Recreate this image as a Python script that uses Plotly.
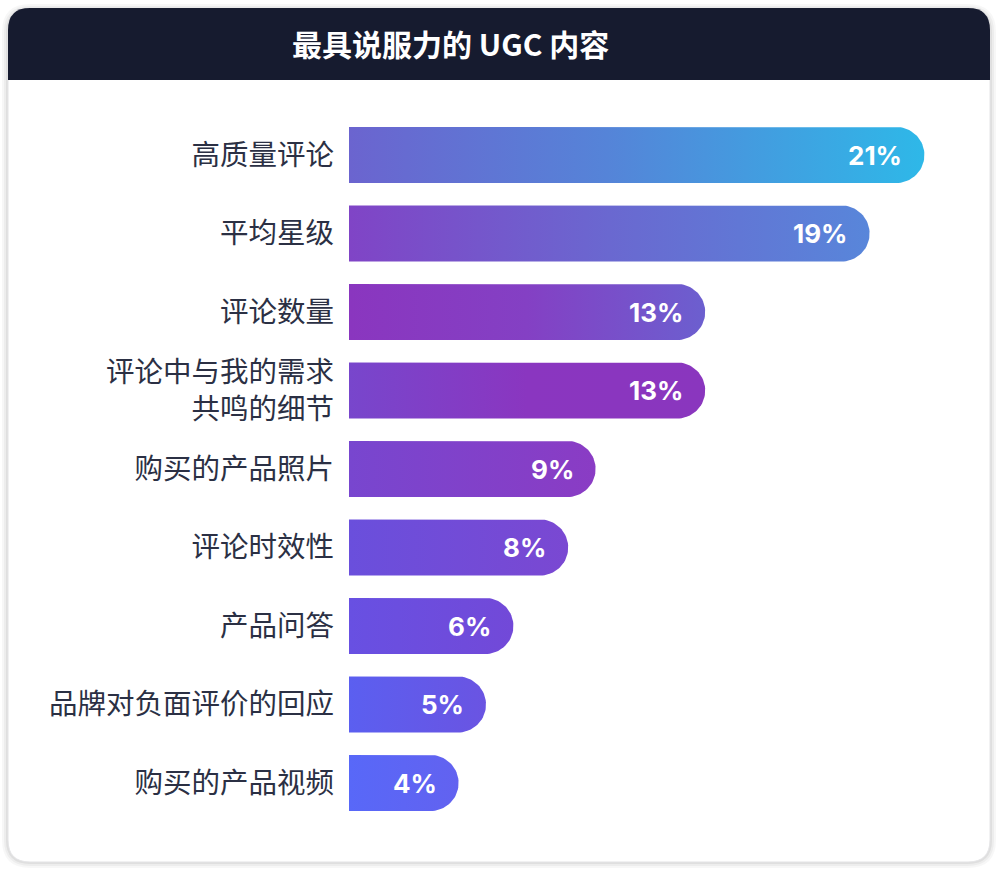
import numpy as np
import plotly.graph_objects as go

# ---------------- data ----------------
categories = [
    "高质量评论",
    "平均星级",
    "评论数量",
    "评论中与我的需求<br>共鸣的细节",
    "购买的产品照片",
    "评论时效性",
    "产品问答",
    "品牌对负面评价的回应",
    "购买的产品视频",
]
values = [21, 19, 13, 13, 9, 8, 6, 5, 4]
value_labels = [f"{v}%" for v in values]
title_text = "最具说服力的 UGC 内容"

# ---------------- styles ----------------
gradients = [
    [[0, "#6b64cf"], [0.45, "#5584d8"], [1, "#2eb8e8"]],
    [[0, "#8044c6"], [0.5, "#6a68d0"], [1, "#5886da"]],
    [[0, "#8a36bf"], [0.5, "#8440c4"], [1, "#6c5fcf"]],
    [[0, "#7846cc"], [0.5, "#8a36c0"], [1, "#8a36be"]],
    [[0, "#7846cf"], [1, "#8a3cc4"]],
    [[0, "#6a4fdc"], [1, "#7a48d2"]],
    [[0, "#6850e2"], [1, "#7249d8"]],
    [[0, "#5b5ff0"], [1, "#6a54e2"]],
    [[0, "#5868f8"], [1, "#6262f0"]],
]

W, H = 1000, 870
PX_PER_PCT = 27.4
X_DOM_PX = (349, 960)
XMAX = (X_DOM_PX[1] - X_DOM_PX[0]) / PX_PER_PCT
STEP_PX = 78.5
Y_TOP_PX = 155 - STEP_PX / 2
Y_BOT_PX = Y_TOP_PX + STEP_PX * len(categories)
BAR_R_PX = 28


def px(x):
    return x / W


def py(y):
    return 1 - y / H


def rounded_path(x0, y0, x1, y1, r, bottom_square=False):
    def P(x, y):
        return f"{px(x):.5f},{py(y):.5f}"

    s = f"M {P(x0 + r, y0)} L {P(x1 - r, y0)} Q {P(x1, y0)} {P(x1, y0 + r)} "
    if bottom_square:
        s += f"L {P(x1, y1)} L {P(x0, y1)} "
    else:
        s += (f"L {P(x1, y1 - r)} Q {P(x1, y1)} {P(x1 - r, y1)} "
              f"L {P(x0 + r, y1)} Q {P(x0, y1)} {P(x0, y1 - r)} ")
    s += f"L {P(x0, y0 + r)} Q {P(x0, y0)} {P(x0 + r, y0)} Z"
    return s


fig = go.Figure()

# bars as gradient-filled rounded polygons computed from the values
rx = BAR_R_PX / PX_PER_PCT
hy = BAR_R_PX / STEP_PX
th = np.linspace(-np.pi / 2, np.pi / 2, 41)
for i, (v, g) in enumerate(zip(values, gradients)):
    xs = [0, v - rx] + list(v - rx + rx * np.cos(th)) + [0, 0]
    ys = [i - hy, i - hy] + list(i + hy * np.sin(th)) + [i + hy, i - hy]
    fig.add_trace(go.Scatter(
        x=xs, y=ys, mode="lines", fill="toself",
        line=dict(width=0, color="rgba(0,0,0,0)"),
        fillgradient=dict(type="horizontal", colorscale=g, start=0, stop=v),
        hoverinfo="skip", showlegend=False,
    ))
    fig.add_annotation(
        x=v, y=i, xref="x", yref="y", text=value_labels[i],
        showarrow=False, xanchor="right", yanchor="middle", xshift=-20,
        font=dict(family="Inter, Open Sans, sans-serif", size=26, color="white", weight=700),
    )

shapes = []
# shadow
for k, op in [(6, 0.03), (4, 0.04), (2, 0.06)]:
    shapes.append(dict(type="path", xref="paper", yref="paper",
                       path=rounded_path(8 - k, 8 - k + 2, 990 + k, 862 + k, 22 + k),
                       fillcolor=f"rgba(0,0,0,{op})", line=dict(width=0), layer="below"))
# card
shapes.append(dict(type="path", xref="paper", yref="paper",
                   path=rounded_path(8, 8, 990, 862, 22),
                   fillcolor="white", line=dict(width=1, color="#e4e4e6"), layer="below"))
# header band
shapes.append(dict(type="path", xref="paper", yref="paper",
                   path=rounded_path(8, 8, 990, 80, 22, bottom_square=True),
                   fillcolor="#161b2f", line=dict(width=0), layer="below"))

fig.add_annotation(
    x=px(450), y=py(43), xref="paper", yref="paper", text=title_text,
    showarrow=False, xanchor="center", yanchor="middle",
    font=dict(family="Noto Sans CJK SC", size=30, color="white", weight=700),
)

fig.update_layout(
    width=W, height=H,
    margin=dict(l=0, r=0, t=0, b=0),
    paper_bgcolor="white", plot_bgcolor="rgba(0,0,0,0)",
    shapes=shapes,
    showlegend=False,
    xaxis=dict(domain=[px(X_DOM_PX[0]), px(X_DOM_PX[1])], range=[0, XMAX],
               visible=False, fixedrange=True),
    yaxis=dict(domain=[py(Y_BOT_PX), py(Y_TOP_PX)],
               range=[len(categories) - 0.5, -0.5],
               tickmode="array", tickvals=list(range(len(categories))), ticktext=categories,
               ticks="", showgrid=False, zeroline=False, showline=False,
               ticklabelstandoff=14,
               tickfont=dict(family="Noto Sans CJK SC", size=28.5, color="#2b3044"),
               fixedrange=True),
)

fig.write_html("out.html")
